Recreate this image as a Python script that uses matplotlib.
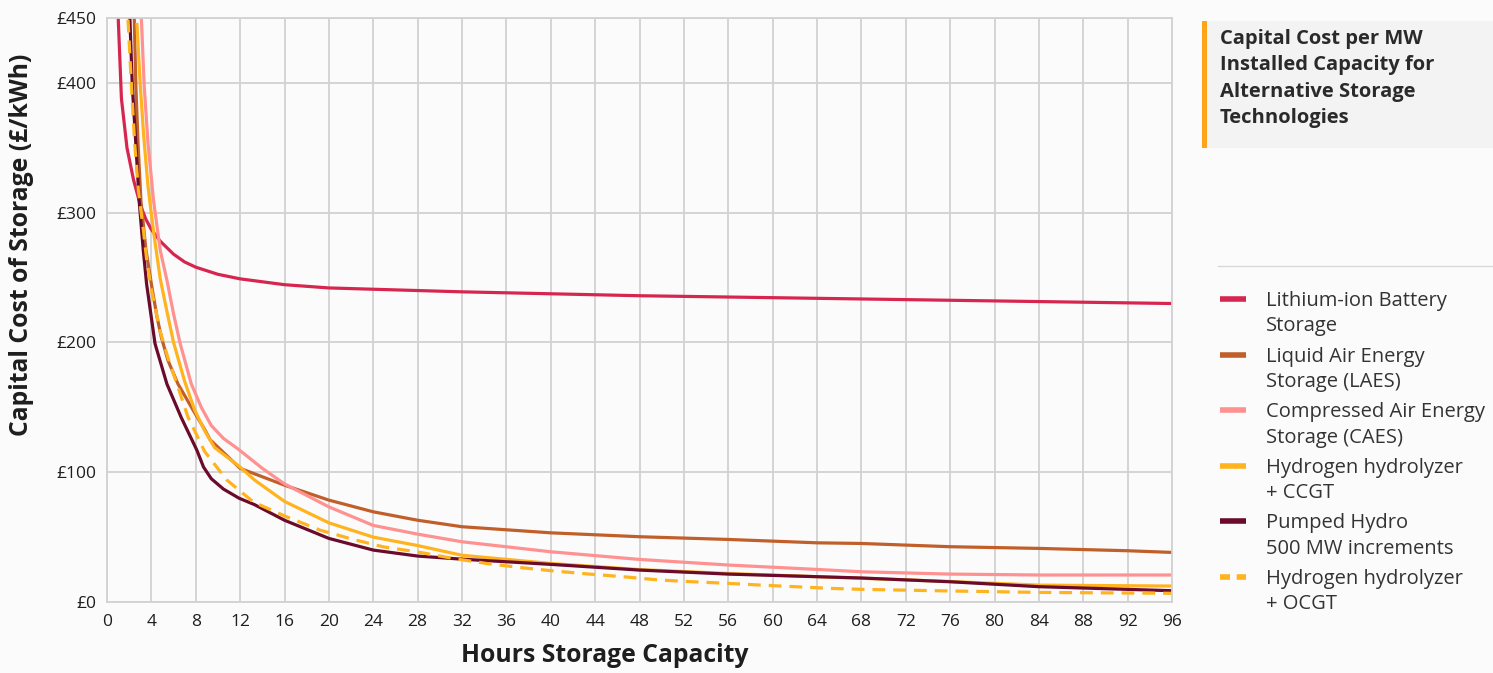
import matplotlib
matplotlib.use("Agg")
import matplotlib.pyplot as plt
from matplotlib.lines import Line2D
from matplotlib.patches import Rectangle

plt.rcParams['font.family'] = ['Open Sans', 'DejaVu Sans']

# --- data (hours, £/kWh) ---
li_h = [0.95, 1.02, 1.3, 1.8, 2.4, 3.0, 3.5, 4.0, 4.8, 6.0, 7.0, 8.0, 10.0, 12, 16, 20, 24, 32, 40, 48, 56, 64, 72, 80, 88, 96]
li_v = [480, 448, 388, 350, 325, 306, 295, 287, 278, 268, 262, 258, 252.5, 249, 244.5, 242, 241, 239, 237.5, 236, 235, 234, 233, 232, 231, 230]

laes_h = [2.4, 2.6, 2.8, 3.06, 3.5, 4.0, 4.5, 4.9, 5.5, 6.4, 7.75, 8.8, 9.3, 12, 16, 20, 24, 28, 32, 40, 48, 56, 64, 68, 76, 84, 92, 96]
laes_v = [470, 398, 353, 309, 272, 245, 220, 204, 186, 168, 148, 133, 125, 103, 90, 78.5, 69.5, 63, 58, 53.3, 50.3, 48.2, 45.6, 45.1, 42.6, 41.3, 39.5, 38.2]

caes_h = [3.0, 3.35, 3.7, 4.2, 4.8, 5.4, 6.0, 6.6, 7.6, 8.5, 9.4, 10.5, 11.8, 14, 16, 20, 24, 28, 32, 40, 48, 56, 64, 68, 76, 84, 96]
caes_v = [470, 398, 353, 309, 271, 248, 222, 199, 168, 150, 136, 126, 118, 103, 91, 73.3, 59, 52.3, 46.4, 38.7, 32.8, 28.5, 25.1, 23.3, 21.5, 20.8, 20.8]

ccgt_h = [2.7, 3.0, 3.3, 3.7, 4.2, 4.8, 5.4, 6.0, 7.0, 7.9, 8.8, 9.7, 12, 13.3, 16, 20, 24, 28, 32, 40, 48, 56, 64, 76, 84, 96]
ccgt_v = [445, 398, 360, 320, 285, 249, 224, 200, 170, 148, 132, 119, 104, 94, 77.5, 61, 50, 43.5, 36, 29.7, 25, 22, 19.5, 15.8, 13, 12.3]

hydro_h = [1.95, 2.07, 2.28, 2.6, 2.9, 3.27, 3.57, 4.33, 5.4, 6.7, 8.1, 8.7, 9.4, 10.5, 11.9, 13.3, 16, 20, 24, 28, 32, 40, 48, 56, 64, 68, 76, 84, 96]
hydro_v = [480, 448, 398, 353, 309, 271, 245, 199, 168, 142, 117, 104, 95, 87, 80, 75, 63, 49, 40, 35.4, 33, 29, 24.6, 21.5, 19.5, 18.5, 15.6, 11.8, 8.7]

ocgt_h = [1.8, 1.9, 2.2, 2.5, 2.83, 3.3, 3.6, 4.02, 4.78, 5.5, 6.3, 7.3, 8.8, 10.8, 13.2, 16.2, 19.2, 22.2, 24.9, 27.9, 31.2, 34.2, 37.2, 40.4, 43.5, 46.5, 49.7, 52.8, 55.9, 59, 62, 65.2, 68.2, 76, 84, 96]
ocgt_v = [470, 448, 398, 353, 317, 285, 262, 240, 209, 188, 168, 142.5, 116, 94, 77, 65.6, 55.4, 48.2, 42.5, 38.7, 33.6, 29.7, 26.6, 23.8, 21.5, 19.5, 17, 15.6, 14.4, 13, 11.8, 10.5, 9.7, 8.5, 7.4, 6.7]

series = [
    ("Lithium-ion Battery\nStorage", li_h, li_v, '#D6264F', '-'),
    ("Liquid Air Energy\nStorage (LAES)", laes_h, laes_v, '#C15F2A', '-'),
    ("Compressed Air Energy\nStorage (CAES)", caes_h, caes_v, '#FF9191', '-'),
    ("Hydrogen hydrolyzer\n+ CCGT", ccgt_h, ccgt_v, '#FFB31F', '-'),
    ("Pumped Hydro\n500 MW increments", hydro_h, hydro_v, '#6A0B2B', '-'),
    ("Hydrogen hydrolyzer\n+ OCGT", ocgt_h, ocgt_v, '#FFB31F', '--'),
]

x_ticks = list(range(0, 97, 4))
y_ticks = [0, 100, 200, 300, 400, 450]
y_labels = ['£0', '£100', '£200', '£300', '£400', '£450']

bg = '#FBFBFB'
grid_c = '#D2D2D2'
text_c = '#1E1E1E'

fig = plt.figure(figsize=(14.93, 6.73), dpi=100, facecolor=bg)
ax = fig.add_axes([107 / 1493, 1 - 602 / 673, (1172 - 107) / 1493, (602 - 18) / 673])
ax.set_facecolor(bg)

for label, h, v, c, ls in series:
    line, = ax.plot(h, v, color=c, lw=2.3, ls=ls, solid_joinstyle='round')
    if ls == '--':
        line.set_dashes((4, 2.5))

ax.set_xlim(0, 96)
ax.set_ylim(0, 450)
ax.set_xticks(x_ticks)
ax.set_xticklabels([str(t) for t in x_ticks])
ax.set_yticks(y_ticks)
ax.set_yticklabels(y_labels)
ax.grid(True, color=grid_c, lw=1.3)
ax.set_axisbelow(True)
for s in ax.spines.values():
    s.set_color(grid_c)
    s.set_linewidth(1.3)
ax.tick_params(length=0, labelsize=12.5, colors=text_c, pad=8)
ax.tick_params(axis='x', pad=9)

ax.set_xlabel('Hours Storage Capacity', fontsize=17.8, fontweight='bold', color=text_c)
ax.set_ylabel('Capital Cost of Storage (£/kWh)', fontsize=17.8, fontweight='bold', color=text_c)
ax.xaxis.set_label_coords((605 - 107) / 1065, (602 - 643) / 584)
ax.yaxis.set_label_coords((34 - 107) / 1065, (602 - 245) / 584)

# title box
fig.patches.append(Rectangle((1202 / 1493, 1 - 148 / 673), (1493 - 1202) / 1493, 127 / 673,
                             transform=fig.transFigure, facecolor='#F3F3F3', edgecolor='none'))
fig.patches.append(Rectangle((1202 / 1493, 1 - 148 / 673), 5 / 1493, 127 / 673,
                             transform=fig.transFigure, facecolor='#FFA31A', edgecolor='none'))
fig.text(1220 / 1493, 1 - 29 / 673, 'Capital Cost per MW\nInstalled Capacity for\nAlternative Storage\nTechnologies',
         fontsize=14.5, fontweight='bold', color='#2A2A2A', va='top', ha='left', linespacing=1.42)

# legend
fig.add_artist(Line2D([1218 / 1493, 1], [1 - 266 / 673] * 2, transform=fig.transFigure, color='#D8D8D8', lw=1))
for i, (label, h, v, c, ls) in enumerate(series):
    y = 1 - (299 + i * 55.6) / 673
    ln = Line2D([1220 / 1493, 1246 / 1493], [y, y], transform=fig.transFigure, color=c, lw=4,
                solid_capstyle='butt')
    if ls == '--':
        ln.set_dashes((1.8, 1.2))
    fig.add_artist(ln)
    fig.text(1266 / 1493, y + 8 / 673, label, fontsize=14.5, color='#333333', va='top', ha='left',
             linespacing=1.36)

fig.savefig('out.png', dpi=100, facecolor=bg)
